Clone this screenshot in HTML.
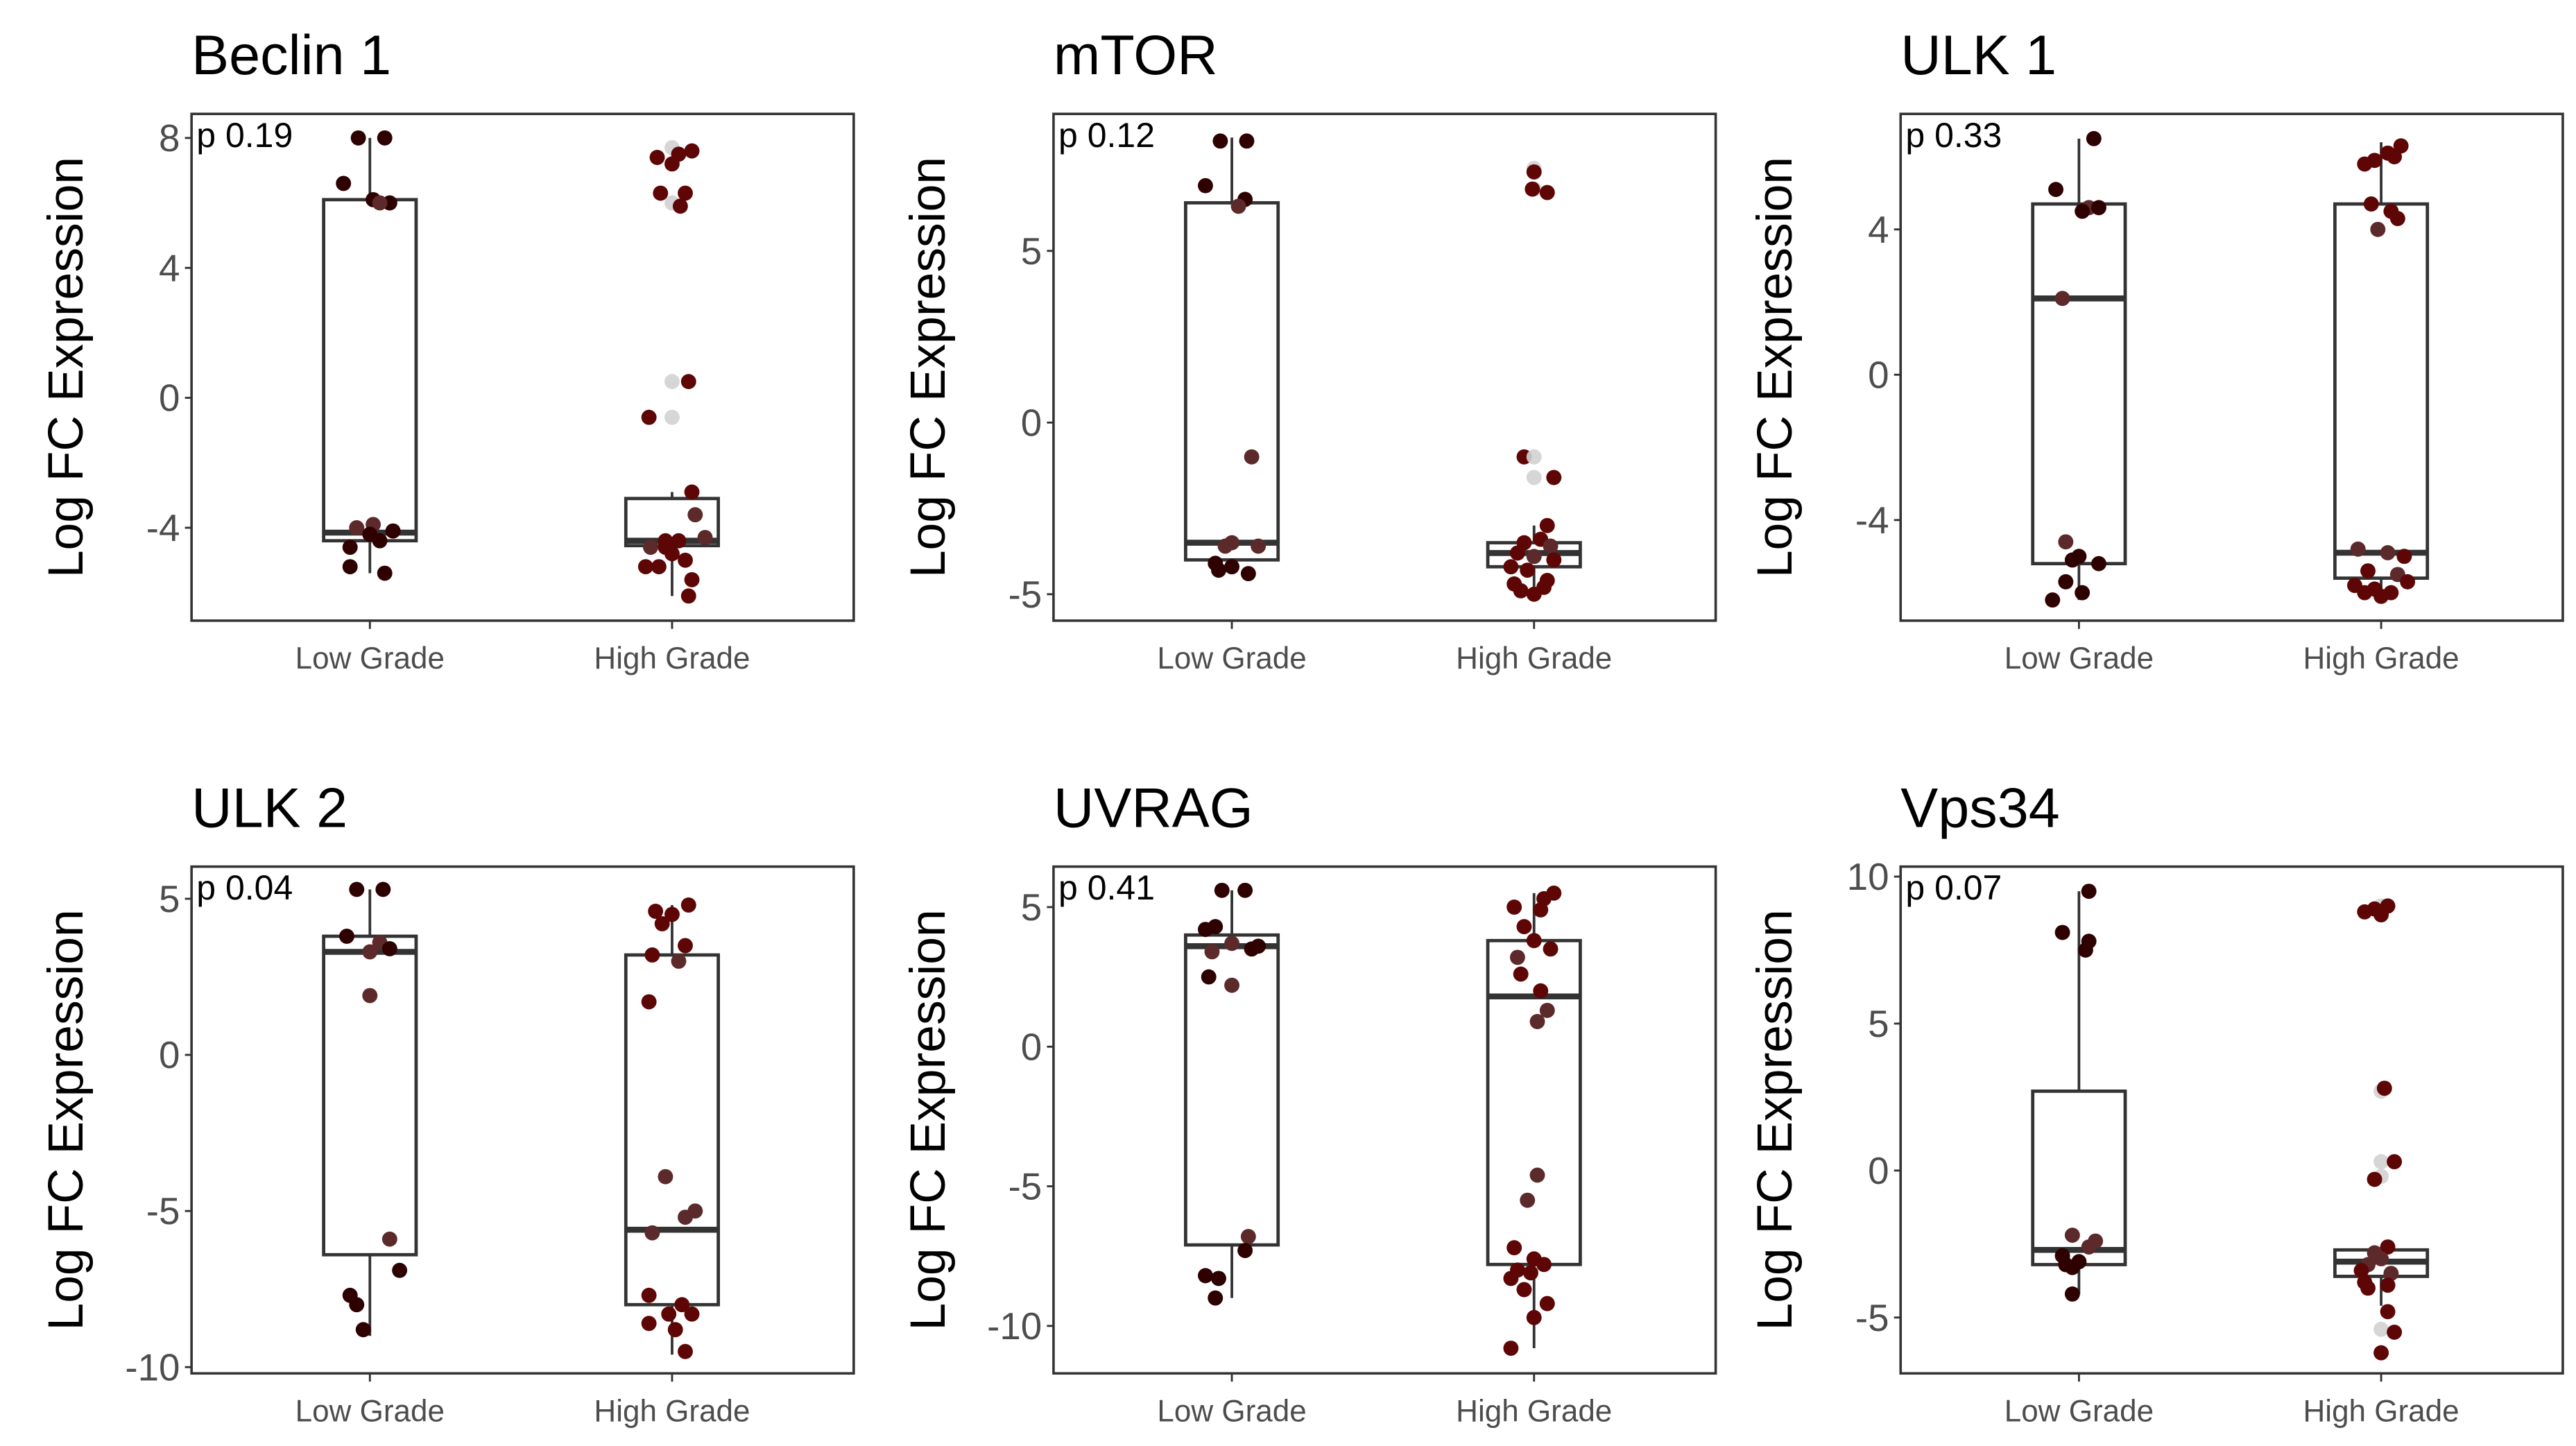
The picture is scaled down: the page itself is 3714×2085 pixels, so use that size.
<!DOCTYPE html>
<html><head><meta charset="utf-8">
<style>
html,body{margin:0;padding:0;background:#fff;}
svg{display:block;}
text{font-family:"Liberation Sans",Arial,sans-serif;}
</style></head>
<body>
<svg id="fig" width="3714" height="2085" viewBox="0 0 1560 876" preserveAspectRatio="none" xmlns="http://www.w3.org/2000/svg"></svg>
<script>
// ---- data ----
const categories = ["Low Grade", "High Grade"];
const panelTitles = ["Beclin 1", "mTOR", "ULK 1", "ULK 2", "UVRAG", "Vps34"];
const pValues = ["p 0.19", "p 0.12", "p 0.33", "p 0.04", "p 0.41", "p 0.07"];
const yLimits = [[-6.86, 8.74], [-5.77, 8.99], [-6.77, 7.18], [-10.2, 6.03], [-11.7, 6.45], [-6.9, 10.34]];
const yTicks = [[-4, 0, 4, 8], [-5, 0, 5], [-4, 0, 4], [-10, -5, 0, 5], [-10, -5, 0, 5], [-5, 0, 5, 10]];
// box stats: [whiskerLow, q1, median, q3, whiskerHigh]
const beclinBoxes = [[-5.4, -4.4, -4.15, 6.1, 8.0], [-6.1, -4.55, -4.4, -3.1, -2.9]];
const mtorBoxes = [[-4.3, -4.0, -3.5, 6.4, 8.3], [-5.0, -4.2, -3.8, -3.5, -3.0]];
const ulk1Boxes = [[-6.2, -5.2, 2.1, 4.7, 6.5], [-6.2, -5.6, -4.9, 4.7, 6.4]];
const ulk2Boxes = [[-9.0, -6.4, 3.3, 3.8, 5.3], [-9.6, -8.0, -5.6, 3.2, 4.8]];
const uvragBoxes = [[-9.0, -7.1, 3.6, 4.0, 5.6], [-10.8, -7.8, 1.8, 3.8, 5.5]];
const vps34Boxes = [[-4.2, -3.2, -2.7, 2.7, 9.5], [-4.6, -3.6, -3.1, -2.7, -2.6]];
// points: [jitter, value, colourCode] colour 0 dark,1 red,2 muted,3 grey
const beclinLow = [[-7,8.0,0],[9,8.0,0],[-16,6.6,0],[2,6.1,0],[12,6.0,0],[6,6.0,2],[-8,-4.0,2],[2,-3.9,2],[14,-4.1,0],[-12,-4.6,0],[6,-4.4,0],[-12,-5.2,0],[9,-5.4,0],[0,-4.2,0]];
const beclinHigh = [[0,7.7,3],[0,6.0,3],[-9,7.4,1],[4,7.5,1],[12,7.6,1],[0,7.2,1],[-7,6.3,1],[8,6.3,1],[5,5.9,1],[0,0.5,3],[10,0.5,1],[0,-0.6,3],[-14,-0.6,1],[12,-2.9,1],[14,-3.6,2],[20,-4.3,2],[-13,-4.6,2],[-4,-4.4,1],[4,-4.4,1],[-16,-5.2,1],[-8,-5.2,1],[8,-5.0,1],[0,-4.8,1],[12,-5.6,1],[10,-6.1,1],[-4,-4.6,1]];
const mtorLow = [[-7,8.2,0],[9,8.2,0],[-16,6.9,0],[8,6.5,0],[4,6.3,2],[12,-1.0,2],[0,-3.5,2],[-4,-3.6,2],[16,-3.6,2],[-10,-4.1,0],[-8,-4.3,0],[0,-4.2,0],[10,-4.4,0]];
const mtorHigh = [[0,7.4,3],[0,7.3,1],[0,6.8,3],[-1,6.8,1],[8,6.7,1],[-6,-1.0,1],[0,-1.0,3],[0,-1.6,3],[12,-1.6,1],[8,-3.0,1],[-6,-3.5,1],[4,-3.4,1],[10,-3.6,2],[-10,-3.8,1],[0,-3.9,2],[12,-4.0,1],[-14,-4.2,1],[-12,-4.7,1],[-8,-4.9,1],[6,-4.8,1],[8,-4.6,1],[0,-5.0,1],[-4,-4.3,1]];
const ulk1Low = [[9,6.5,0],[-14,5.1,0],[6,4.6,2],[12,4.6,0],[2,4.5,0],[-10,2.1,2],[-8,-4.6,2],[-4,-5.1,0],[12,-5.2,0],[0,-5.0,0],[2,-6.0,0],[-16,-6.2,0],[-8,-5.7,0]];
const ulk1High = [[12,6.3,1],[-4,5.9,1],[-10,5.8,1],[4,6.1,1],[8,6.0,1],[-6,4.7,1],[6,4.5,1],[10,4.3,1],[-2,4.0,2],[-14,-4.8,2],[4,-4.9,2],[14,-5.0,1],[-8,-5.4,1],[10,-5.5,2],[-16,-5.8,1],[-4,-5.9,1],[6,-6.0,1],[0,-6.1,1],[16,-5.7,1],[-10,-6.0,1]];
const ulk2Low = [[-8,5.3,0],[8,5.3,0],[-14,3.8,0],[6,3.6,2],[12,3.4,0],[0,3.3,2],[0,1.9,2],[12,-5.9,2],[18,-6.9,0],[-12,-7.7,0],[-8,-8.0,0],[-4,-8.8,0]];
const ulk2High = [[10,4.8,1],[-10,4.6,1],[0,4.5,1],[-6,4.2,1],[8,3.5,1],[-12,3.2,1],[4,3.0,2],[-14,1.7,1],[-4,-3.9,2],[14,-5.0,2],[8,-5.2,2],[-12,-5.7,2],[-14,-7.7,1],[6,-8.0,1],[12,-8.3,1],[-14,-8.6,1],[2,-8.8,1],[8,-9.5,1],[-2,-8.3,1]];
const uvragLow = [[-6,5.6,0],[8,5.6,0],[-16,4.2,0],[-10,4.3,0],[0,3.7,2],[12,3.5,0],[16,3.6,0],[-12,3.4,2],[-14,2.5,0],[0,2.2,2],[10,-6.8,2],[8,-7.3,0],[-16,-8.2,0],[-8,-8.3,0],[-10,-9.0,0]];
const uvragHigh = [[12,5.5,1],[6,5.3,1],[-12,5.0,1],[4,4.9,1],[-6,4.3,1],[0,3.8,1],[10,3.5,1],[-10,3.2,2],[-8,2.6,1],[4,2.0,1],[2,0.9,2],[8,1.3,2],[2,-4.6,2],[-4,-5.5,2],[-12,-7.2,1],[0,-7.6,1],[-10,-8.0,1],[6,-7.8,1],[-14,-8.3,1],[-6,-8.7,1],[8,-9.2,1],[0,-9.7,1],[-14,-10.8,1],[-2,-8.1,1]];
const vps34Low = [[6,9.5,0],[-10,8.1,0],[6,7.8,0],[4,7.5,0],[-4,-2.2,2],[6,-2.6,2],[10,-2.4,2],[-8,-3.2,0],[0,-3.1,0],[-4,-3.3,0],[-4,-4.2,0],[-10,-2.9,0]];
const vps34High = [[0,9.0,3],[4,9.0,1],[-10,8.8,1],[-4,8.9,1],[0,8.7,1],[0,2.7,3],[2,2.8,1],[0,0.3,3],[8,0.3,1],[0,-0.2,3],[-4,-0.3,1],[4,-2.6,1],[-4,-2.8,2],[-8,-3.2,2],[6,-3.5,2],[-10,-3.8,1],[-8,-4.0,1],[4,-3.9,1],[-12,-3.4,1],[4,-4.8,1],[0,-5.4,3],[8,-5.5,1],[0,-6.2,1],[0,-3.0,2]];

const allBoxes = [beclinBoxes, mtorBoxes, ulk1Boxes, ulk2Boxes, uvragBoxes, vps34Boxes];
const allPoints = [[beclinLow, beclinHigh], [mtorLow, mtorHigh], [ulk1Low, ulk1High], [ulk2Low, ulk2High], [uvragLow, uvragHigh], [vps34Low, vps34High]];

// ---- layout ----
const NS = "http://www.w3.org/2000/svg";
const svg = document.getElementById("fig");
const colLeft = [116, 638, 1151], rowTop = [69, 525];
const PW = 401, PH = 307;
const palette = ["#2e0000", "#5e0606", "#5c2a2a", "#d2d2d2"];
function mk(tag, attrs, parent) {
  const e = document.createElementNS(NS, tag);
  for (const k in attrs) e.setAttribute(k, attrs[k]);
  (parent || svg).appendChild(e);
  return e;
}
for (let i = 0; i < 6; i++) {
  const L = colLeft[i % 3], T = rowTop[Math.floor(i / 3)];
  const [ymin, ymax] = yLimits[i];
  const y = v => T + PH - (v - ymin) / (ymax - ymin) * PH;
  const xCat = c => L + (c === 0 ? 108 : 291);
  const g = mk("g", {});
  
  
  const t = mk("text", {x: L, y: T - 24, "font-size": 34, fill: "#000"}, g);
  t.textContent = panelTitles[i];
  
  
  const yt = mk("text", {x: 0, y: 0, "font-size": 30, fill: "#000", "text-anchor": "middle", transform: `translate(${L - 66},${T + PH / 2}) rotate(-90)`}, g);
  yt.textContent = "Log FC Expression";
  
  
  yTicks[i].forEach(v => {
    const tk = mk("line", {x1: L - 4, x2: L, y1: y(v), y2: y(v), stroke: "#333", "stroke-width": 1.2}, g);
    
    
    const tl = mk("text", {x: L - 7, y: y(v) + 8, "font-size": 23, fill: "#4d4d4d", "text-anchor": "end"}, g);
    tl.textContent = v;
    
    
  });
  categories.forEach((c, ci) => {
    const tk = mk("line", {x1: xCat(ci), x2: xCat(ci), y1: T + PH, y2: T + PH + 5, stroke: "#333", "stroke-width": 1.2}, g);
    
    
    const tl = mk("text", {x: xCat(ci), y: T + PH + 29, "font-size": 18.5, fill: "#4d4d4d", "text-anchor": "middle"}, g);
    tl.textContent = c;
    
    
  });
  allBoxes[i].forEach((b, ci) => {
    const cx = xCat(ci), hw = 28;
    const wl = mk("line", {x1: cx, x2: cx, y1: y(b[0]), y2: y(b[4]), stroke: "#333", "stroke-width": 1.6}, g);
    
    
    const r = mk("rect", {x: cx - hw, y: y(b[3]), width: 2 * hw, height: Math.max(1, y(b[1]) - y(b[3])), fill: "#fff", stroke: "#333", "stroke-width": 2}, g);
    
    
    const m = mk("line", {x1: cx - hw, x2: cx + hw, y1: y(b[2]), y2: y(b[2]), stroke: "#333", "stroke-width": 3.6}, g);
    
    
  });
  allPoints[i].forEach((pts, ci) => {
    pts.forEach(p => {
      const c = mk("circle", {cx: xCat(ci) + p[0], cy: y(p[1]), r: 4.6, fill: palette[p[2]], "fill-opacity": p[2] === 3 ? 0.9 : 1}, g);
      
      
    });
  });
  const fr = mk("rect", {x: L, y: T, width: PW, height: PH, fill: "none", stroke: "#333", "stroke-width": 1.5}, g);
  
  
  const pv = mk("text", {x: L + 3, y: T + 20, "font-size": 21, fill: "#000"}, g);
  pv.textContent = pValues[i];
  
  
}
</script>
</body></html>
